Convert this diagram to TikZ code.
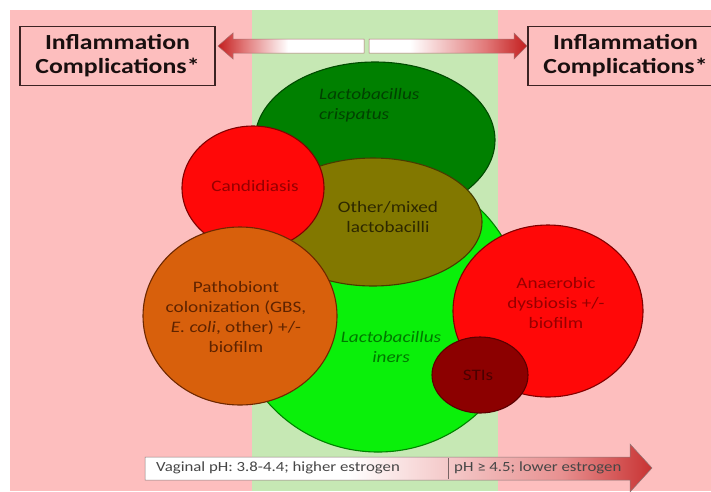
\documentclass[tikz,border=0pt]{standalone}
\usepackage{fontspec}
\setmainfont{Carlito}[FakeStretch=1.2]
\usetikzlibrary{shapes.geometric,shadings}
\definecolor{bgpink}{RGB}{253,190,190}
\definecolor{bandgreen}{RGB}{198,232,180}
\definecolor{dgreen}{RGB}{0,128,0}
\definecolor{dgreenD}{RGB}{0,75,0}
\definecolor{lgreen}{RGB}{10,240,10}
\definecolor{lgreenD}{RGB}{0,130,0}
\definecolor{olive}{RGB}{130,120,0}
\definecolor{oliveD}{RGB}{70,60,0}
\definecolor{redf}{RGB}{255,8,8}
\definecolor{redD}{RGB}{130,0,0}
\definecolor{orangef}{RGB}{216,96,12}
\definecolor{orangeD}{RGB}{110,40,0}
\definecolor{stif}{RGB}{140,0,0}
\definecolor{stiD}{RGB}{90,0,0}
\definecolor{arrred}{RGB}{195,30,30}
\definecolor{arrmid}{RGB}{225,120,120}
\definecolor{barpink}{RGB}{245,205,205}
\definecolor{barmid}{RGB}{232,145,145}
\definecolor{barred}{RGB}{200,50,50}
\definecolor{boxline}{RGB}{60,35,35}
\definecolor{boxtext}{RGB}{25,15,15}
\definecolor{arrline}{RGB}{170,110,110}
\definecolor{barline}{RGB}{140,120,120}
\definecolor{divline}{RGB}{120,100,100}
\definecolor{bartxt}{RGB}{70,70,70}
\definecolor{tcrispc}{RGB}{0,65,0}
\definecolor{tredc}{RGB}{150,0,0}
\definecolor{tmixedc}{RGB}{45,40,0}
\definecolor{tpathoc}{RGB}{95,35,0}
\definecolor{tinersc}{RGB}{0,120,0}
\definecolor{tstic}{RGB}{75,0,0}
\pgfdeclarehorizontalshading{leftarr}{100bp}{color(0bp)=(arrred); color(25bp)=(arrred); color(34bp)=(arrmid); color(49bp)=(white); color(100bp)=(white)}
\pgfdeclarehorizontalshading{rightarr}{100bp}{color(0bp)=(white); color(38bp)=(white); color(62bp)=(arrmid); color(75bp)=(arrred); color(100bp)=(arrred)}
\pgfdeclarehorizontalshading{bararr}{100bp}{color(0bp)=(white); color(45bp)=(white); color(54bp)=(barpink); color(66bp)=(barmid); color(75bp)=(barred); color(100bp)=(barred)}
\tikzset{
  bub/.style={ellipse, line width=1.1pt, inner sep=0pt},
  btext/.style={font=\fontsize{16}{20}\selectfont, align=center, inner sep=0pt},
  hbox/.style={draw=boxline, line width=1.3pt, fill=bgpink,
    minimum width=195pt, minimum height=59pt, align=center,
    font=\bfseries\fontsize{21.5}{24}\selectfont, text=boxtext},
  bartext/.style={font=\fontsize{14}{16}\selectfont, text=bartxt, inner sep=0pt, anchor=west}
}
\begin{document}
\begin{tikzpicture}[x=1pt,y=-1pt]
\useasboundingbox (0,0) rectangle (711,491);
\fill[white] (0,0) rectangle (711,491);
\fill[bgpink] (10,10) rectangle (711,491);
\fill[bandgreen] (252,10) rectangle (498,491);

% header boxes
\node[hbox] (lbox) at (117.5,56) {Inflammation\\Complications*};
\node[hbox] (rbox) at (625.5,56) {Inflammation\\Complications*};

% top double arrow
\shade[shading=leftarr, draw=arrline, line width=0.5pt]
  (218,46) -- (233,33) -- (233,39) -- (364,39) -- (364,53) -- (233,53) -- (233,59) -- cycle;
\shade[shading=rightarr, draw=arrline, line width=0.5pt]
  (369,39) -- (514,39) -- (514,33) -- (527,46) -- (514,59) -- (514,53) -- (369,53) -- cycle;

% bubbles
\node[bub, fill=lgreen, draw=lgreenD, minimum width=290pt, minimum height=284pt] (iners) at (378,310) {};
\node[bub, fill=dgreen, draw=dgreenD, minimum width=240pt, minimum height=156pt] (crisp) at (375,140) {};
\node[bub, fill=olive, draw=oliveD, minimum width=218pt, minimum height=128pt] (mixed) at (373,222) {};
\node[bub, fill=redf, draw=redD, minimum width=142pt, minimum height=124pt] (cand) at (253,188) {};
\node[bub, fill=orangef, draw=orangeD, minimum width=194pt, minimum height=178pt] (patho) at (240,316) {};
\node[bub, fill=redf, draw=redD, minimum width=190pt, minimum height=172pt] (anaer) at (548,311) {};
\node[bub, fill=stif, draw=stiD, minimum width=96pt, minimum height=76pt] (sti) at (480,375) {};

% bubble texts
\node[btext, align=left, anchor=west, text=tcrispc] (tcrisp) at (319,105) {\itshape Lactobacillus\\\itshape crispatus};
\node[btext, text=tredc] (tcand) at (255,186) {Candidiasis};
\node[btext, text=tmixedc] (tmixed) at (388,217) {Other/mixed\\lactobacilli};
\node[btext, text=tpathoc] (tpatho) at (236,317) {Pathobiont\\colonization (GBS,\\\textit{E. coli}, other) +/-\\biofilm};
\node[btext, text=tinersc] (tiners) at (391,347) {\itshape Lactobacillus\\\itshape iners};
\node[btext, text=tredc] (tanaer) at (556,303) {Anaerobic\\dysbiosis +/-\\biofilm};
\node[btext, text=tstic] (tsti) at (478,375) {STIs};

% bottom pH arrow
\shade[shading=bararr, draw=barline, line width=0.5pt]
  (145,457) -- (630,457) -- (630,444) -- (652,468) -- (630,492) -- (630,480) -- (145,480) -- cycle;
\draw[divline, line width=0.6pt] (448,458) -- (448,479);
\node[bartext] (phlow) at (156,468) {Vaginal pH: 3.8-4.4; higher estrogen};
\node[bartext] (phhigh) at (454,468) {pH ≥ 4.5; lower estrogen};
\end{tikzpicture}
\end{document}
